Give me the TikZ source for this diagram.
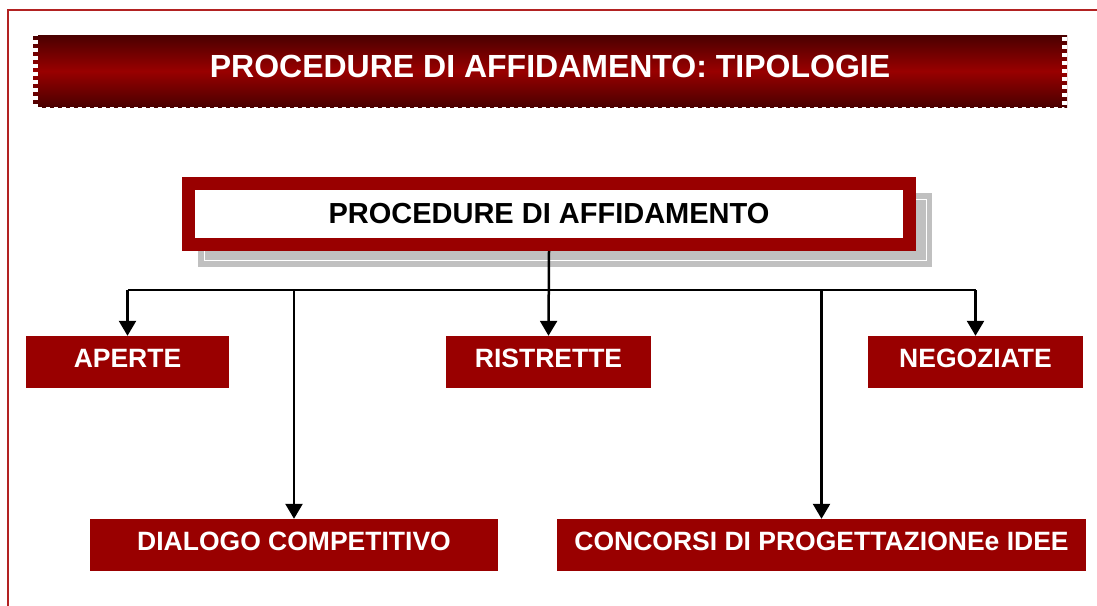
\documentclass[tikz,border=0pt]{standalone}
\usepackage{fontspec}
\setmainfont{Liberation Sans}
\usetikzlibrary{arrows.meta}
\definecolor{boxred}{HTML}{990000}
\definecolor{darkred}{HTML}{4A0000}
\definecolor{framered}{HTML}{B22222}
\definecolor{shadowgray}{HTML}{C0C0C0}
\tikzset{
  redbox/.style={fill=boxred, text=white, inner sep=0pt, text depth=7pt,
    font=\fontsize{26.5}{30}\selectfont\bfseries},
  link/.style={line width=2.5pt, black},
  arrowlink/.style={link, -{Triangle[width=17pt,length=15pt]}}
}
\begin{document}
\begin{tikzpicture}[x=1pt,y=-1pt]
      \useasboundingbox (0,0) rectangle (1097,605);
      % frame
      \draw[framered, line width=1.5pt] (1100,10) -- (8,10) -- (8,610);
      % title banner
      \node[minimum width=1034pt, minimum height=72pt, inner sep=0pt,
        top color=darkred, bottom color=darkred, middle color=boxred,
        text=white, text depth=10pt, font=\fontsize{32}{36}\selectfont\bfseries]
        (title) at (550,71) {PROCEDURE DI AFFIDAMENTO: TIPOLOGIE};
      \draw[white, line width=5pt, dash pattern=on 4pt off 4pt]
        ([shift={(2.5,-2.5)}]title.north west) rectangle ([shift={(-2.5,2.5)}]title.south east);
      % main box with shadow
      \fill[shadowgray] (198,193) rectangle (932,267);
      \draw[white, line width=1pt] (204,199) rectangle (926,260);
      \node[draw=boxred, line width=13pt, fill=white, minimum width=721pt,
        minimum height=61pt, inner sep=0pt, font=\fontsize{29}{33}\selectfont\bfseries]
        (main) at (549,214) {PROCEDURE DI AFFIDAMENTO};
      % boxes
      \draw
        (127.5,362) node[redbox, minimum width=203pt, minimum height=52pt] (aperte){APERTE}
        (548.5,362) node[redbox, minimum width=205pt, minimum height=52pt] (ristrette){RISTRETTE}
        (975.5,362) node[redbox, minimum width=215pt, minimum height=52pt] (negoziate){NEGOZIATE}
        (294,545) node[redbox, minimum width=408pt, minimum height=52pt] (dialogo){DIALOGO COMPETITIVO}
        (821.5,545) node[redbox, minimum width=529pt, minimum height=52pt] (concorsi){CONCORSI DI PROGETTAZIONEe IDEE};
      \coordinate (bar) at (549,290);
      \begin{scope}[arrowlink]
        \draw (main.south |- 0,251) to (ristrette.north);
        \draw (bar -| aperte.north) to (aperte.north);
        \draw (bar -| negoziate.north) to (negoziate.north);
        \draw (bar -| dialogo.north) to (dialogo.north);
        \draw (bar -| concorsi.north) to (concorsi.north);
      \end{scope}
      \draw[link] (bar -| aperte.north) -- (bar -| negoziate.north);
    \end{tikzpicture}
\end{document}
